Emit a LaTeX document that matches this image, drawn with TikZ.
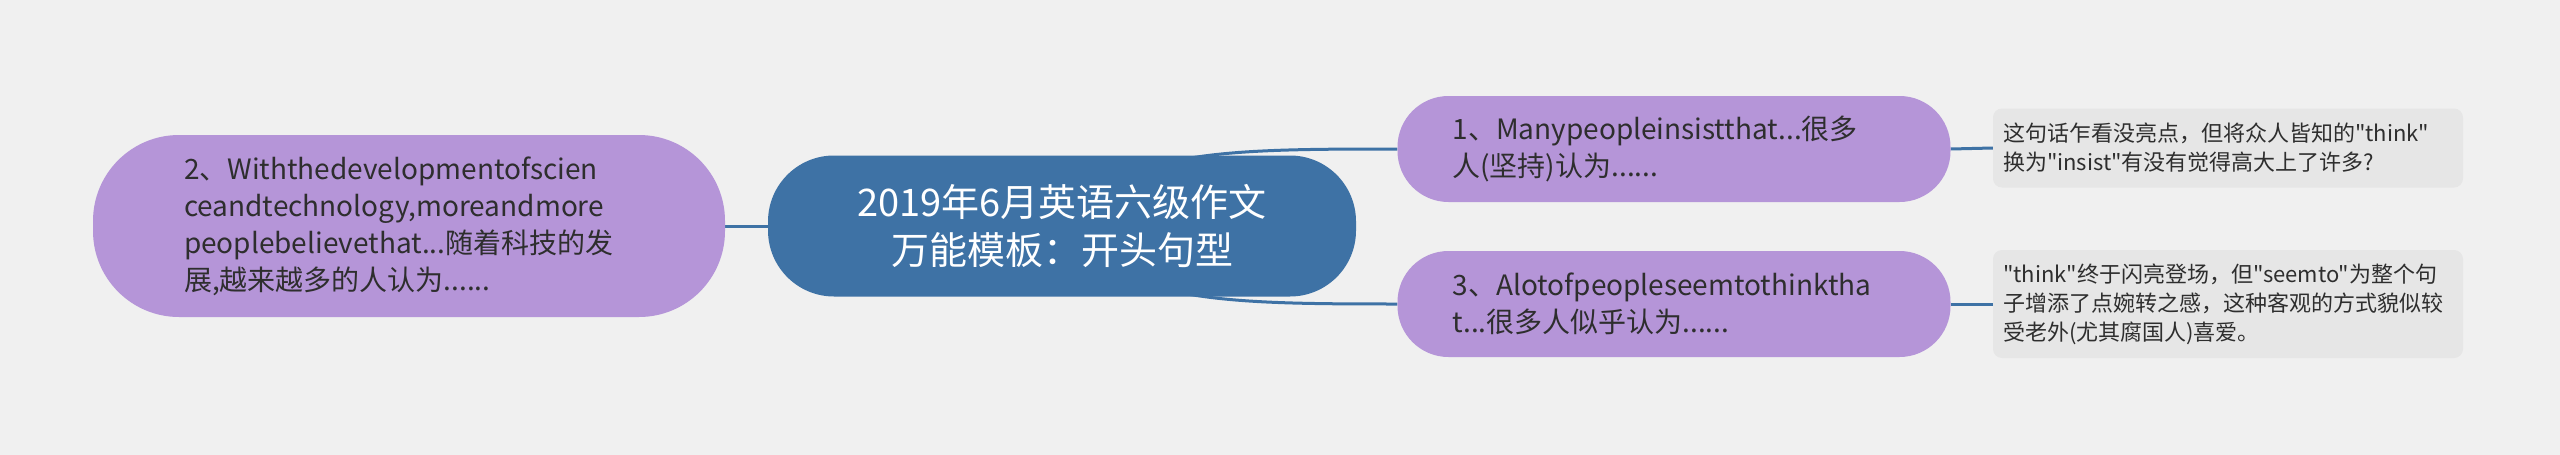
\documentclass[tikz,border=0pt]{standalone}
\usepackage{fontspec}
\setmainfont{Noto Sans CJK SC}[Ligatures=TeXOff]
\usetikzlibrary{backgrounds}
\definecolor{pagebg}{HTML}{F0F0F0}
\definecolor{rootblue}{HTML}{3E72A5}
\definecolor{leafpurple}{HTML}{B595D8}
\definecolor{notegray}{HTML}{E6E6E6}
\definecolor{inktext}{HTML}{2E2E2E}
\begin{document}
\begin{tikzpicture}[x=1pt,y=-1pt,
    root/.style={fill=rootblue, text=white, rounded corners=66pt, minimum width=588pt, minimum height=141pt, align=center, font=\fontsize{38}{48}\selectfont},
    leaf/.style={fill=leafpurple, text=inktext, rounded corners=51pt, align=left, font=\fontsize{28}{37}\selectfont},
    note/.style={fill=notegray, text=inktext, rounded corners=9pt, align=left, minimum width=470pt, text width=450pt, font=\fontsize{22}{29}\selectfont},
    link/.style={draw=rootblue, line width=3pt}]
    \useasboundingbox (0,0) rectangle (2560,455);
    \node[root] (root) at (1062,226) {2019年6月英语六级作文\\万能模板：开头句型};
    \node[leaf, minimum width=632pt, minimum height=182pt, text width=450pt, rounded corners=86pt] (develop) at (409,226)
        {2、Withthedevelopmentofscien\\ceandtechnology,moreandmore\\peoplebelievethat...随着科技的发\\展,越来越多的人认为......};
    \node[leaf, minimum width=553pt, minimum height=106pt, text width=443pt] (insist) at (1674,149)
        {1、Manypeopleinsistthat...很多\\人(坚持)认为......};
    \node[leaf, minimum width=553pt, minimum height=106pt, text width=443pt] (seem) at (1674,304)
        {3、Alotofpeopleseemtothinktha\\t...很多人似乎认为......};
    \node[note, minimum height=79pt] (insistnote) at (2228,148)
        {这句话乍看没亮点，但将众人皆知的"think"\\换为"insist"有没有觉得高大上了许多?};
    \node[note, minimum height=108pt] (seemnote) at (2228,304)
        {"think"终于闪亮登场，但"seemto"为整个句\\子增添了点婉转之感，这种客观的方式貌似较\\受老外(尤其腐国人)喜爱。};
    \begin{scope}[on background layer]
        \fill[pagebg] (0,0) rectangle (2560,455);
        \draw[link] (root.west) -- (develop.east);
        \draw[link] (root.center) .. controls +(58,-76) and +(-178,0) .. (insist.west);
        \draw[link] (root.center) .. controls +(58,76) and +(-178,0) .. (seem.west);
        \draw[link] (insist.east) -- (insistnote.west);
        \draw[link] (seem.east) -- (seemnote.west);
    \end{scope}
\end{tikzpicture}
\end{document}
